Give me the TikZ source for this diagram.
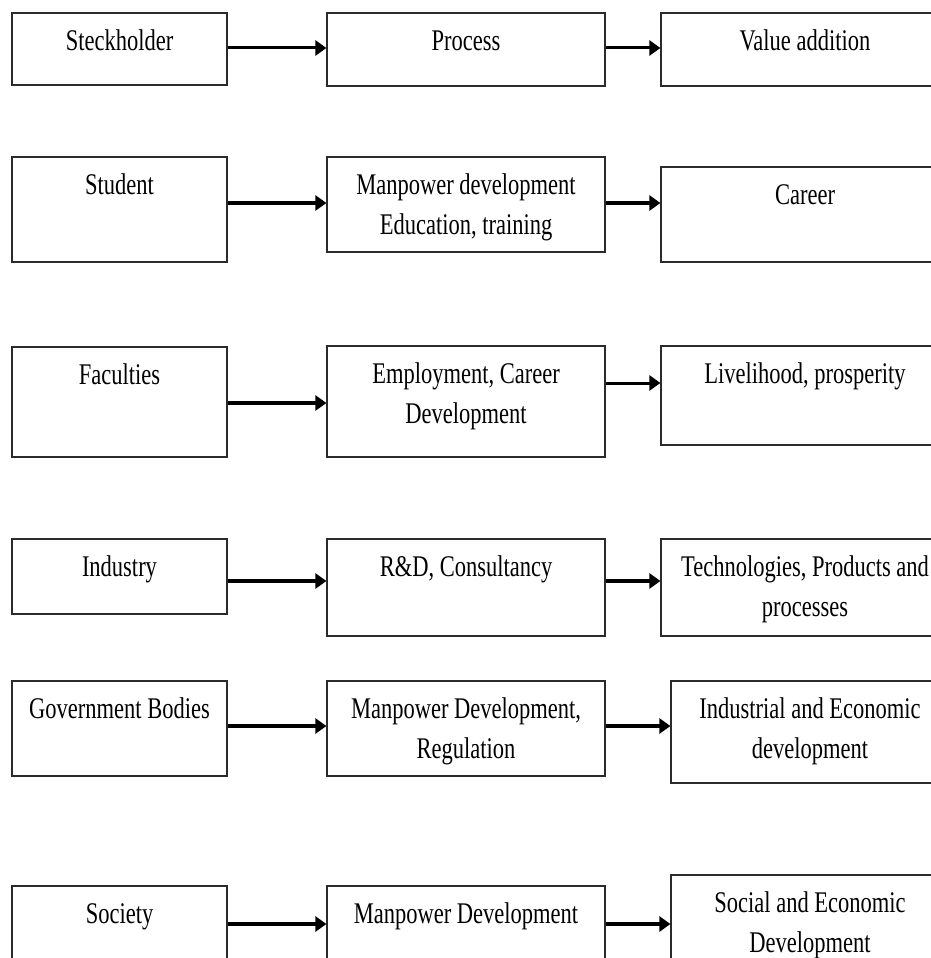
\documentclass[tikz,border=0pt]{standalone}
\usepackage{fontspec}
\setmainfont{Liberation Serif}[FakeStretch=0.75]
\usetikzlibrary{arrows.meta,fit,calc}
\definecolor{edge}{HTML}{2B2B2B}

\begin{document}
\begin{tikzpicture}[x=1pt, y=-1pt,
  stage/.style={draw=edge, line width=1.2pt, inner sep=0},
  txt/.style={font=\fontsize{30}{40}\selectfont, anchor=base, inner sep=0},
  flow/.style={line width=4.5pt, -{Triangle[length=11pt, width=15pt]}},
  thinflow/.style={flow, line width=3pt}]
\useasboundingbox (0,0) rectangle (931,958);
\newcommand{\stagebox}[6]{% name, left, top, right, bottom, text
  \coordinate (#1-nw) at (#2,#3);
  \coordinate (#1-se) at (#4,#5);
  \node[stage, fit=(#1-nw)(#1-se)] (#1) {};
  \node[txt] (#1-txt) at ($(#1.north)+(0,38)$)
    {\begin{tabular}[t]{@{}c@{}}#6\end{tabular}};}
% stakeholder column
\stagebox{s1}{12}{13}{227}{85}{Steckholder}
\stagebox{s2}{12}{157}{227}{262}{Student}
\stagebox{s3}{12}{347}{227}{457}{Faculties}
\stagebox{s4}{12}{539}{227}{614}{Industry}
\stagebox{s5}{12}{681}{227}{776}{Government Bodies}
\stagebox{s6}{12}{886}{227}{990}{Society}
% process column
\stagebox{p1}{327}{13}{605}{86}{Process}
\stagebox{p2}{327}{157}{605}{252}{Manpower development\\Education, training}
\stagebox{p3}{327}{346}{605}{457}{Employment, Career\\Development}
\stagebox{p4}{327}{539}{605}{636}{R\&D, Consultancy}
\stagebox{p5}{327}{681}{605}{776}{Manpower Development,\\Regulation}
\stagebox{p6}{327}{886}{605}{990}{Manpower Development}
% value column (runs off the right edge)
\stagebox{v1}{661}{13}{949}{86}{Value addition}
\stagebox{v2}{661}{167}{949}{262}{Career}
\stagebox{v3}{661}{346}{949}{445}{Livelihood, prosperity}
\stagebox{v4}{661}{539}{949}{636}{Technologies, Products and\\processes}
\stagebox{v5}{671}{681}{949}{783}{Industrial and Economic\\development}
\stagebox{v6}{671}{875}{949}{990}{Social and Economic\\Development}
% arrow heights
\coordinate (r1) at (0,48);
\coordinate (r2) at (0,203);
\coordinate (r3) at (0,403);
\coordinate (r3b) at (0,383);
\coordinate (r4) at (0,581);
\coordinate (r5) at (0,726);
\coordinate (r6) at (0,924);
\draw[thinflow] (s1.east |- r1) -- (p1.west |- r1);
\draw[thinflow] (p1.east |- r1) -- (v1.west |- r1);
\foreach \i in {2,4,5,6} {
  \draw[flow] (s\i.east |- r\i) -- (p\i.west |- r\i);
  \draw[flow] (p\i.east |- r\i) -- (v\i.west |- r\i);
}
\draw[flow] (s3.east |- r3) -- (p3.west |- r3);
\draw[thinflow] (p3.east |- r3b) -- (v3.west |- r3b);
\end{tikzpicture}
\end{document}
